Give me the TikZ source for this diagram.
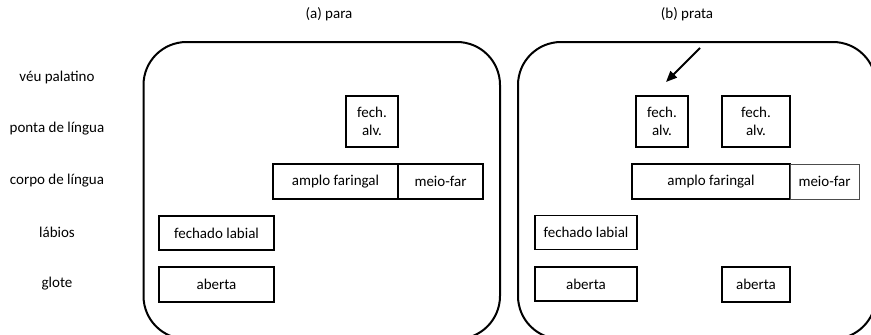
\documentclass[tikz,border=0pt]{standalone}
\usepackage{fontspec}
\setmainfont{Carlito}
\usetikzlibrary{arrows.meta}

\tikzset{
  panel/.style={draw=black, line width=2bp, rounded corners=43bp},
  cell/.style={draw=black, line width=1.3bp, inner sep=0pt, align=center,
               font=\fontsize{15bp}{18bp}\selectfont},
  thincell/.style={cell, draw=black!70, line width=0.9bp},
  rowlabel/.style={font=\fontsize{15bp}{18bp}\selectfont, anchor=center},
  title/.style={font=\fontsize{15bp}{18bp}\selectfont, anchor=center},
  pointer/.style={line width=2bp, -{Triangle[length=11bp,width=9bp]}}
}

\begin{document}
\begin{tikzpicture}[x=1bp, y=-1bp]
  \useasboundingbox (0,0) rectangle (871,334);
  \clip (0,0) rectangle (871,334);

  % panel titles
  \node[title] (ta) at (329,14) {(a) para};
  \node[title] (tb) at (687,14) {(b) prata};

  % tier labels
  \node[rowlabel] (lveu)   at (57,77)  {véu palatino};
  \node[rowlabel] (lponta) at (57,129) {ponta de língua};
  \node[rowlabel] (lcorpo) at (57,181) {corpo de língua};
  \node[rowlabel] (llab)   at (57,232) {lábios};
  \node[rowlabel] (lglote) at (57,284) {glote};

  % panel frames (their lower edges run past the page)
  \draw[panel] (143.5,42) rectangle (500,339);
  \draw[panel] (518,42) rectangle (876,339);

  % (a) para
  \node[cell, minimum width=52bp, minimum height=51bp] (afech) at (372,121.5) {fech.\\alv.};
  \node[cell, minimum width=125bp, minimum height=35bp] (aamplo) at (335.5,181.5) {amplo faringal};
  \node[cell, minimum width=85bp, minimum height=35bp] (ameio) at (440.5,181.5) {meio-far};
  \node[cell, minimum width=115bp, minimum height=34bp] (alab) at (216.5,233) {fechado labial};
  \node[cell, minimum width=115bp, minimum height=35bp] (aglote) at (216.5,284.5) {aberta};

  % (b) prata
  \node[cell, minimum width=52bp, minimum height=51bp] (bfech1) at (662,121.5) {fech.\\alv.};
  \node[cell, minimum width=68bp, minimum height=51bp] (bfech2) at (756,121.5) {fech.\\alv.};
  \node[cell, minimum width=158bp, minimum height=35bp] (bamplo) at (711,181.5) {amplo faringal};
  \node[thincell, minimum width=69bp, minimum height=35bp] (bmeio) at (824.5,181.5) {meio-far};
  \node[cell, minimum width=102bp, minimum height=34bp] (blab) at (586,232.5) {fechado labial};
  \node[cell, minimum width=102bp, minimum height=34bp] (bglote1) at (586,284) {aberta};
  \node[cell, minimum width=68bp, minimum height=35bp] (bglote2) at (756,284.5) {aberta};

  % pointer towards the first alveolar closure
  \coordinate (ptail) at (700,48);
  \coordinate (phead) at (666,82);
  \draw[pointer] (ptail) -- (phead);
\end{tikzpicture}
\end{document}
